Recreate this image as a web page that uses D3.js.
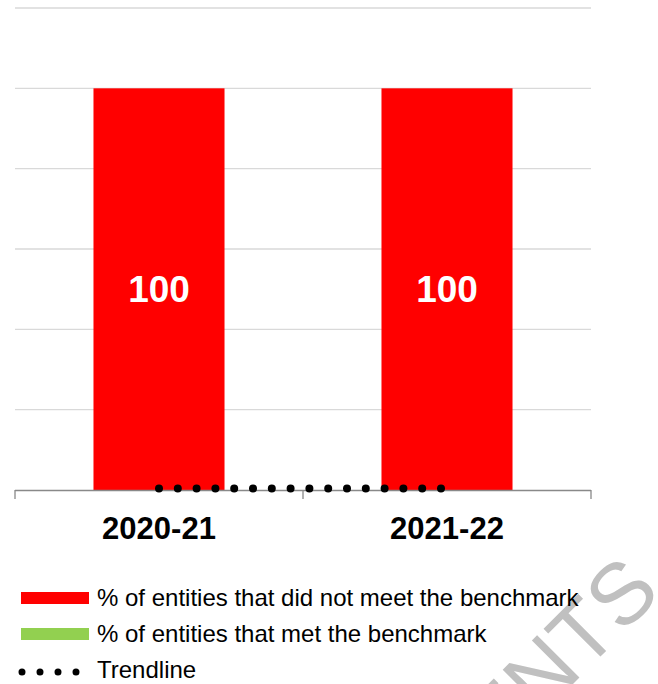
<!DOCTYPE html>
<html><head><meta charset="utf-8">
<script src="https://cdn.jsdelivr.net/npm/d3@7"></script>
<style>html,body{margin:0;padding:0;background:#fff;}svg{display:block;font-family:"Liberation Sans",Arial,sans-serif;}</style>
</head><body>
<script>
const categories = ["2020-21", "2021-22"];
const didNotMeet = [100, 100];
const met = [0, 0];
const yTicks = [20, 40, 60, 80, 100, 120];
const legendLabels = ["% of entities that did not meet the benchmark", "% of entities that met the benchmark", "Trendline"];
const watermarkText = "COMMENTS";

const W = 658, H = 684;
const svg = d3.select("body").append("svg").attr("width", W).attr("height", H);

// watermark
svg.append("text").attr("transform", "translate(663,594) rotate(-45)")
  .attr("text-anchor", "end").attr("font-size", 87).attr("fill", "#c0c0c0")
  .text(watermarkText);

const x = d3.scaleBand().domain(categories).range([15, 591]).padding(0);
const y = d3.scaleLinear().domain([0, 120]).range([490, 8]);
const barW = x.bandwidth() * 0.455;

svg.append("g").selectAll("line").data(yTicks).join("line")
  .attr("x1", 15).attr("x2", 591).attr("y1", d => y(d)).attr("y2", d => y(d))
  .attr("stroke", "#d9d9d9").attr("stroke-width", 1.3);

svg.append("g").selectAll("rect").data(categories).join("rect")
  .attr("x", d => x(d) + x.bandwidth() / 2 - barW / 2).attr("width", barW)
  .attr("y", (d, i) => y(didNotMeet[i])).attr("height", (d, i) => y(0) - y(didNotMeet[i]))
  .attr("fill", "#ff0000");

svg.append("g").selectAll("text").data(categories).join("text")
  .attr("x", d => x(d) + x.bandwidth() / 2)
  .attr("y", (d, i) => (y(didNotMeet[i]) + y(0)) / 2)
  .attr("dy", "0.36em").attr("text-anchor", "middle")
  .attr("font-size", 37).attr("font-weight", "bold").attr("fill", "#fff")
  .text((d, i) => didNotMeet[i]);

// axis
const ax = svg.append("g");
ax.append("line").attr("x1", 15).attr("x2", 591).attr("y1", 490.5).attr("y2", 490.5).attr("stroke", "#898989").attr("stroke-width", 1.3);
const tickXs = [15, 15 + x.step(), 591];
ax.selectAll("line.t").data(tickXs).join("line").attr("class", "t")
  .attr("x1", d => d).attr("x2", d => d).attr("y1", 490).attr("y2", 499)
  .attr("stroke", "#898989").attr("stroke-width", 1.3);
ax.selectAll("text").data(categories).join("text")
  .attr("x", d => x(d) + x.bandwidth() / 2).attr("y", 539)
  .attr("text-anchor", "middle").attr("font-size", 31).attr("font-weight", "bold").attr("fill", "#000")
  .text(d => d);

// trendline
const line = d3.line().x(d => x(d[0]) + x.bandwidth() / 2).y(d => y(d[1]) - 1.5);
svg.append("path").datum(categories.map((c, i) => [c, met[i]]))
  .attr("d", line).attr("fill", "none").attr("stroke", "#000")
  .attr("stroke-width", 8).attr("stroke-linecap", "round").attr("stroke-dasharray", "0 18.8");

// legend
const lg = svg.append("g");
lg.append("rect").attr("x", 21).attr("y", 592).attr("width", 68).attr("height", 12).attr("fill", "#ff0000");
lg.append("rect").attr("x", 21).attr("y", 628).attr("width", 68).attr("height", 12).attr("fill", "#92d050");
lg.append("path").attr("d", "M22,672H80").attr("stroke", "#000").attr("stroke-width", 7)
  .attr("stroke-linecap", "round").attr("stroke-dasharray", "0 18");
lg.selectAll("text").data(legendLabels).join("text")
  .attr("x", 97).attr("y", (d, i) => 606 + i * 36)
  .attr("font-size", 24).attr("fill", "#000").text(d => d);
</script>
</body></html>
